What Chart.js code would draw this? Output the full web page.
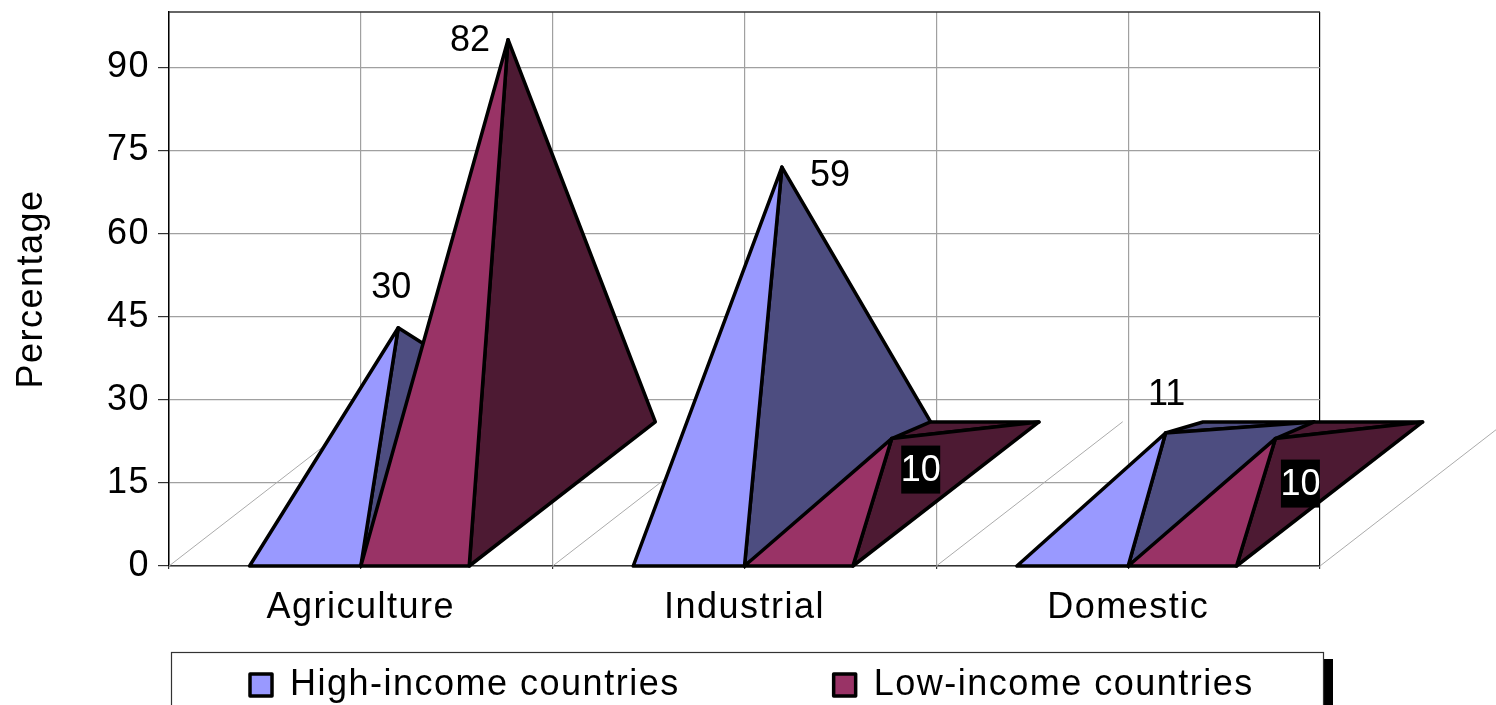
<!DOCTYPE html>
<html>
<head>
<meta charset="utf-8">
<script src="https://cdn.jsdelivr.net/npm/chart.js@4"></script>
<style>
  html, body { margin: 0; padding: 0; background: #fff; overflow: hidden; }
  #wrap { width: 1496px; height: 705px; }
</style>
</head>
<body>
<div id="wrap"><canvas id="chart"></canvas></div>
<script>
'use strict';
const categories = ['Agriculture', 'Industrial', 'Domestic'];
const highIncome = [30, 59, 11];
const lowIncome = [82, 10, 10];
const yAxisMax = 100;
const yAxisStep = 15;

const FONT = 'Liberation Sans, Arial, sans-serif';

// the fake 3D depth, in axis units
const depthX = 0.97;
const depthY = 26;
const slotX = i => 1 + i * 2;

const series = [
  {label: 'High-income countries', values: highIncome, front: '#9999FF', side: '#4D4D80', width: 0.58, x0: i => slotX(i) - 0.58},
  {label: 'Low-income countries', values: lowIncome, front: '#993366', side: '#4D1A33', width: 0.565, x0: i => slotX(i)}
];

// paint order, first one is at the back
const painted = [];

for (let i = 0; i <= 6; i++) {
  painted.push({
    data: [{x: i, y: 0}, {x: i + depthX, y: depthY}],
    borderColor: '#ABABAB',
    borderWidth: 1,
    fill: false
  });
}

function apexOf(s, i) {
  return {x: s.x0(i) + s.width / 2 + depthX / 2, y: depthY / 2 + s.values[i]};
}

function face(points, fillColor, extra) {
  return Object.assign({
    data: points.concat(points[0]),
    backgroundColor: fillColor,
    borderColor: '#000',
    borderWidth: 3.5,
    fill: 'shape'
  }, extra);
}

categories.forEach((c, i) => {
  series.forEach(s => {
    const left = s.x0(i);
    const right = left + s.width;
    const apex = apexOf(s, i);
    const frontRight = {x: right, y: 0};
    const backRight = {x: right + depthX, y: depthY};
    const backLeft = {x: left + depthX, y: depthY};
    if (s.values[i] < depthY / 2) {
      painted.push(face([apex, backLeft, backRight], s.side));
    }
    painted.push(face([frontRight, backRight, apex], s.side));
    painted.push(face([{x: left, y: 0}, frontRight, apex], s.front,
      i === 0 ? {label: s.label, inLegend: true} : {}));
  });
});

// chart.js paints the first dataset last
const datasets = painted.slice().reverse().map(d => Object.assign({
  showLine: true,
  pointRadius: 0,
  pointHoverRadius: 0,
  clip: false,
  tension: 0,
  borderJoinStyle: 'round',
  borderCapStyle: 'round'
}, d));

const dataLabels = [
  {series: 0, slot: 0, dx: -7, dy: -41},
  {series: 1, slot: 0, dx: -38, dy: 0},
  {series: 0, slot: 1, dx: 48, dy: 8},
  {series: 1, slot: 1, dx: 29, dy: 31, boxed: true},
  {series: 0, slot: 2, dx: 1, dy: -39},
  {series: 1, slot: 2, dx: 25, dy: 45, boxed: true}
];

const textSpacing = {
  id: 'textSpacing',
  beforeDraw(chart) {
    chart.ctx.letterSpacing = '1.5px';
  }
};

const wallFrame = {
  id: 'wallFrame',
  beforeDatasetsDraw(chart) {
    const {ctx, chartArea: a} = chart;
    ctx.save();
    ctx.strokeStyle = '#333';
    ctx.lineWidth = 1.5;
    ctx.beginPath();
    ctx.moveTo(a.left, a.top);
    ctx.lineTo(a.right, a.top);
    ctx.stroke();
    ctx.restore();
  }
};

// the filler clips to the chart area, but the pyramids stick out of the wall
let wallRight = 0;
const wideFill = {
  id: 'wideFill',
  beforeDatasetsDraw(chart) {
    wallRight = chart.chartArea.right;
    chart.chartArea.right = chart.width;
  },
  afterDatasetsDraw(chart) {
    chart.chartArea.right = wallRight;
  }
};

const valueLabels = {
  id: 'valueLabels',
  afterDatasetsDraw(chart) {
    const {ctx, scales} = chart;
    ctx.save();
    ctx.letterSpacing = '0px';
    ctx.font = '36px ' + FONT;
    ctx.textAlign = 'center';
    ctx.textBaseline = 'middle';
    dataLabels.forEach(l => {
      const s = series[l.series];
      const apex = apexOf(s, l.slot);
      const px = scales.x.getPixelForValue(apex.x) + l.dx;
      const py = scales.y.getPixelForValue(apex.y) + l.dy;
      if (l.boxed) {
        ctx.fillStyle = '#000';
        ctx.fillRect(px - 19.5, py - 24, 39, 48);
        ctx.fillStyle = '#fff';
      } else {
        ctx.fillStyle = '#000';
      }
      ctx.fillText(String(s.values[l.slot]), px, py + 1);
    });
    ctx.restore();
  }
};

// the legend has its own frame and a black shadow down the right side
const legendFrame = {
  id: 'legendFrame',
  afterUpdate(chart) {
    const legend = chart.legend;
    const pad = legend.options.labels.padding;
    legend.left = 250 - pad;
    legend.right = 1496;
    legend.top = 667 - pad;
    legend.bottom = 705;
  },
  beforeDraw(chart) {
    const {ctx} = chart;
    ctx.save();
    ctx.fillStyle = '#000';
    ctx.fillRect(1323, 659, 10, 46);
    ctx.strokeStyle = '#333';
    ctx.lineWidth = 1.2;
    ctx.strokeRect(171.5, 652.5, 1152, 60);
    ctx.restore();
  }
};

new Chart(document.getElementById('chart'), {
  type: 'scatter',
  data: {datasets},
  plugins: [textSpacing, wallFrame, wideFill, valueLabels, legendFrame],
  options: {
    responsive: true,
    maintainAspectRatio: false,
    animation: false,
    layout: {padding: {top: 12, right: 176, left: 0, bottom: 0}},
    plugins: {
      tooltip: {enabled: false},
      legend: {
        display: true,
        position: 'bottom',
        align: 'start',
        maxHeight: 1,
        labels: {
          color: '#000',
          font: {family: FONT, size: 36},
          boxWidth: 22,
          boxHeight: 22,
          padding: 154,
          filter: (item, data) => data.datasets[item.datasetIndex].inLegend === true,
          sort: (a, b) => a.text.localeCompare(b.text)
        }
      }
    },
    scales: {
      x: {
        type: 'linear',
        min: 0,
        max: 6,
        afterFit: scale => { scale.height = 138; },
        border: {color: '#333', width: 1.5},
        grid: {
          color: ctx => ctx.tick && ctx.tick.value === 6 ? '#000' : '#A0A0A0',
          lineWidth: 1.2,
          tickLength: 3,
          tickColor: '#333'
        },
        ticks: {
          stepSize: 1,
          autoSkip: false,
          maxRotation: 0,
          includeBounds: false,
          color: '#000',
          padding: 17,
          font: {family: FONT, size: 36},
          callback: v => v % 2 === 1 ? categories[(v - 1) / 2] : ''
        }
      },
      y: {
        min: 0,
        max: yAxisMax,
        afterFit: scale => {
          scale.width = 169;
          scale.paddingTop = 0;
          scale.paddingBottom = 0;
        },
        border: {color: '#000', width: 1.5},
        grid: {
          color: '#A0A0A0',
          lineWidth: 1.2,
          tickLength: 11,
          tickColor: '#333'
        },
        title: {
          display: true,
          text: 'Percentage',
          color: '#000',
          font: {family: FONT, size: 36},
          padding: {top: 10, bottom: 0}
        },
        ticks: {
          stepSize: yAxisStep,
          includeBounds: false,
          color: '#000',
          padding: 8,
          font: {family: FONT, size: 36}
        }
      }
    }
  }
});
</script>
</body>
</html>
